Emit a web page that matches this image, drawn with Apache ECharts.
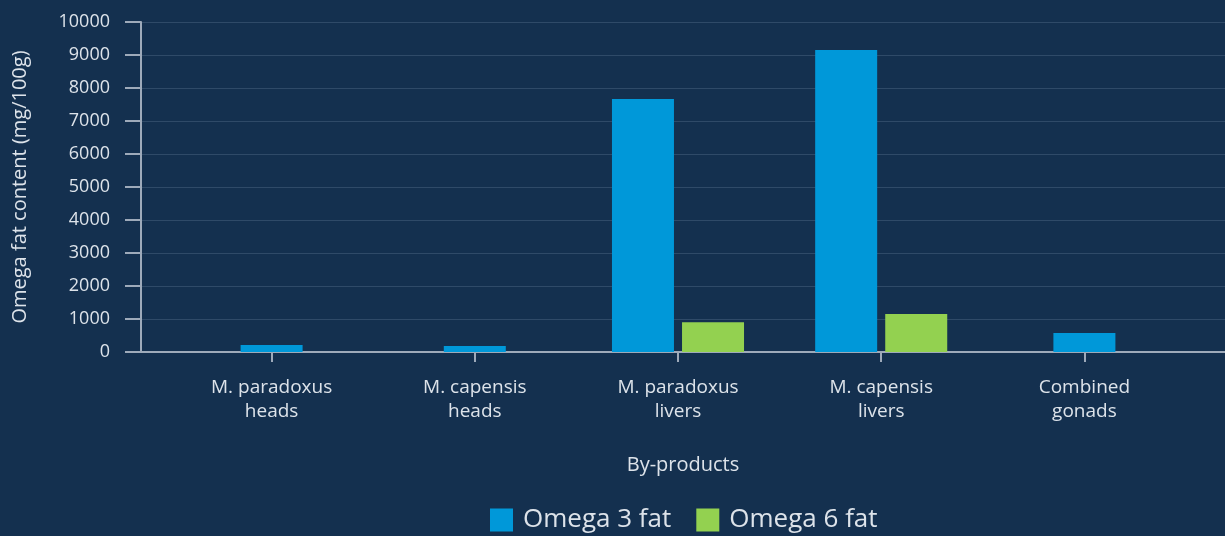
<!DOCTYPE html>
<html>
<head>
<meta charset="utf-8">
<script src="https://cdn.jsdelivr.net/npm/echarts@6/dist/echarts.min.js"></script>
<style>
html,body{margin:0;padding:0;background:#14304f;}
#chart{width:1225px;height:536px;}
</style>
</head>
<body>
<div id="chart"></div>
<script>
var categories = ['M. paradoxus\nheads', 'M. capensis\nheads', 'M. paradoxus\nlivers', 'M. capensis\nlivers', 'Combined\ngonads'];
var omega3 = [210, 180, 7670, 9150, 575];
var omega6 = [null, null, 900, 1150, null];
var yTicks = { min: 0, max: 10000, interval: 1000 };

var omega3Paired = omega3.map(function (v, i) { return omega6[i] == null ? null : v; });
var omega3Single = omega3.map(function (v, i) { return omega6[i] == null ? v : null; });

var FONT = '"Open Sans", "Noto Sans", sans-serif';
var TXT = '#dde3ea';
var AX = '#9eaaba';
var BLUE = '#0098d9';
var GREEN = '#93d150';

var chart = echarts.init(document.getElementById('chart'));
chart.setOption({
  backgroundColor: '#14304f',
  textStyle: { fontFamily: FONT },
  animation: false,
  grid: [
    { left: 141, right: 0, top: 22, bottom: 184 },
    { left: 170, right: 39, top: 22, bottom: 184 }
  ],
  legend: {
    data: ['Omega 3 fat', 'Omega 6 fat'],
    bottom: -2,
    left: 485,
    icon: 'rect',
    itemWidth: 23,
    itemHeight: 23,
    itemGap: 25,
    textStyle: { color: TXT, fontSize: 26, fontFamily: FONT, padding: [0, 0, 0, 5] }
  },
  xAxis: [
    {
      gridIndex: 0, type: 'value', min: 0, max: 1,
      axisLine: { show: true, lineStyle: { color: AX, width: 2 } },
      axisTick: { show: false }, axisLabel: { show: false }, splitLine: { show: false },
      name: 'By-products', nameLocation: 'middle', nameGap: 103,
      nameTextStyle: { color: TXT, fontSize: 20, fontFamily: FONT }
    },
    {
      gridIndex: 1, type: 'category', data: categories,
      axisLine: { show: false },
      axisTick: { show: true, alignWithLabel: true, length: 10, lineStyle: { color: AX, width: 2 } },
      axisLabel: { color: TXT, fontSize: 19, lineHeight: 24, margin: 24, fontFamily: FONT, interval: 0 }
    },
    {
      gridIndex: 1, type: 'category', data: categories, show: false
    }
  ],
  yAxis: [
    {
      gridIndex: 0, type: 'value', min: yTicks.min, max: yTicks.max, interval: yTicks.interval,
      axisLine: { show: true, lineStyle: { color: AX, width: 2 } },
      axisTick: { show: true, length: 16, lineStyle: { color: AX, width: 2 } },
      axisLabel: { color: TXT, fontSize: 18, margin: 31, fontFamily: FONT, formatter: function (v) { return String(v); } },
      splitLine: { show: true, lineStyle: { color: '#2f4a68', width: 1 } },
      name: 'Omega fat content (mg/100g)', nameLocation: 'middle', nameGap: 111, nameRotate: 90,
      nameTextStyle: { color: TXT, fontSize: 20, fontFamily: FONT }
    },
    {
      gridIndex: 1, type: 'value', min: yTicks.min, max: yTicks.max, interval: yTicks.interval, show: false,
      splitLine: { show: false }
    }
  ],
  series: [
    {
      name: 'Omega 3 fat', type: 'bar', xAxisIndex: 1, yAxisIndex: 1,
      data: omega3Paired, barWidth: 62, barGap: '13%',
      itemStyle: { color: BLUE }
    },
    {
      name: 'Omega 6 fat', type: 'bar', xAxisIndex: 1, yAxisIndex: 1,
      data: omega6, barWidth: 62, barGap: '13%',
      itemStyle: { color: GREEN }
    },
    {
      name: 'Omega 3 fat', type: 'bar', xAxisIndex: 2, yAxisIndex: 1,
      data: omega3Single, barWidth: 62,
      itemStyle: { color: BLUE }
    }
  ]
});
</script>
</body>
</html>
